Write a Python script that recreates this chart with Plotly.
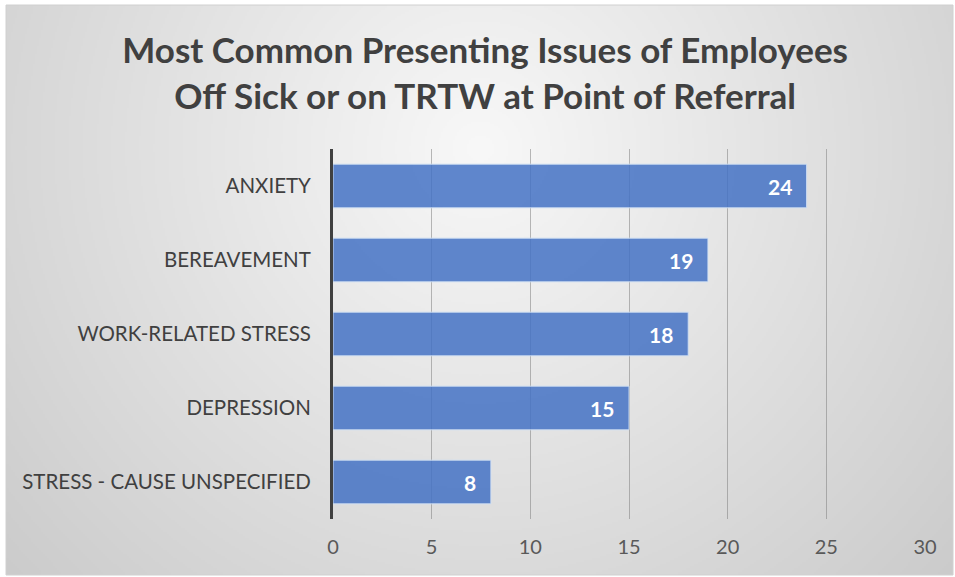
import base64, struct, zlib
import plotly.graph_objects as go

categories = ["ANXIETY", "BEREAVEMENT", "WORK-RELATED STRESS", "DEPRESSION", "STRESS - CAUSE UNSPECIFIED"]
values = [24, 19, 18, 15, 8]
tick_vals = [0, 5, 10, 15, 20, 25, 30]
title_text = "Most Common Presenting Issues of Employees<br>Off Sick or on TRTW at Point of Referral"

W, H = 955, 577
BX0, BY0, BX1, BY1 = 6, 5, 953, 575


def gradient_png(w, h):
    cx, cy = w * 0.5, h * 0.25
    maxd = ((w * 0.55) ** 2 + (h * 0.85) ** 2) ** 0.5
    rows = []
    for y in range(h):
        row = bytearray([0])
        for x in range(w):
            d = (((x - cx) ** 2 + (y - cy) ** 2) ** 0.5) / maxd
            d = min(d, 1.0)
            v = int(248 - (248 - 198) * d)
            row += bytes((v, v, v))
        rows.append(bytes(row))
    raw = b"".join(rows)

    def chunk(t, data):
        c = struct.pack(">I", len(data)) + t + data
        return c + struct.pack(">I", zlib.crc32(t + data) & 0xffffffff)

    png = b"\x89PNG\r\n\x1a\n" + chunk(b"IHDR", struct.pack(">IIBBBBB", w, h, 8, 2, 0, 0, 0))
    png += chunk(b"IDAT", zlib.compress(raw, 9)) + chunk(b"IEND", b"")
    return "data:image/png;base64," + base64.b64encode(png).decode()


bg = gradient_png((BX1 - BX0) // 2, (BY1 - BY0) // 2)

fig = go.Figure()
fig.add_trace(go.Bar(
    y=categories, x=values, orientation="h",
    marker=dict(color="rgba(68,114,196,0.85)", line=dict(color="rgba(210,225,245,0.9)", width=1)),
    hoverinfo="skip",
))

for c, v in zip(categories, values):
    fig.add_annotation(x=v, y=c, xref="x", yref="y", text=str(v), showarrow=False,
                       xanchor="right", xshift=-13,
                       font=dict(family="Lato", size=21, color="white", weight="bold"))

fig.add_layout_image(dict(source=bg, xref="paper", yref="paper",
                          x=(BX0 - 333) / 592, y=(H - BY0 - 58) / 370,
                          sizex=(BX1 - BX0) / 592, sizey=(BY1 - BY0) / 370,
                          xanchor="left", yanchor="top", sizing="stretch", layer="below"))

fig.add_shape(type="rect", xref="paper", yref="paper",
              x0=(BX0 - 333) / 592, x1=(BX1 - 333) / 592,
              y0=(H - BY1 - 58) / 370, y1=(H - BY0 - 58) / 370,
              line=dict(color="#d0d0d0", width=1), layer="below")

fig.update_layout(
    width=W, height=H,
    margin=dict(l=333, r=30, t=149, b=58),
    paper_bgcolor="white", plot_bgcolor="rgba(0,0,0,0)",
    bargap=0.41,
    showlegend=False,
    title=dict(text=title_text, x=0.508, xref="container", xanchor="center", y=0.89, yref="container",
               yanchor="middle",
               font=dict(family="Lato", size=35, color="#404040", weight="bold")),
    xaxis=dict(range=[0, 30], tickvals=tick_vals, showgrid=True, gridcolor="rgba(130,130,130,0.55)",
               gridwidth=1, zeroline=False, showline=False, ticks="",
               tickfont=dict(family="Lato", size=20, color="#595959"), ticklabelstandoff=14),
    yaxis=dict(categoryorder="array", categoryarray=categories[::-1], autorange=False, range=[-0.5, 4.5],
               showline=True, linecolor="#404040", linewidth=3, ticks="", showgrid=False,
               tickfont=dict(family="Lato", size=20.5, color="#404040"), ticklabelstandoff=15),
)

fig.write_html("out.html")
